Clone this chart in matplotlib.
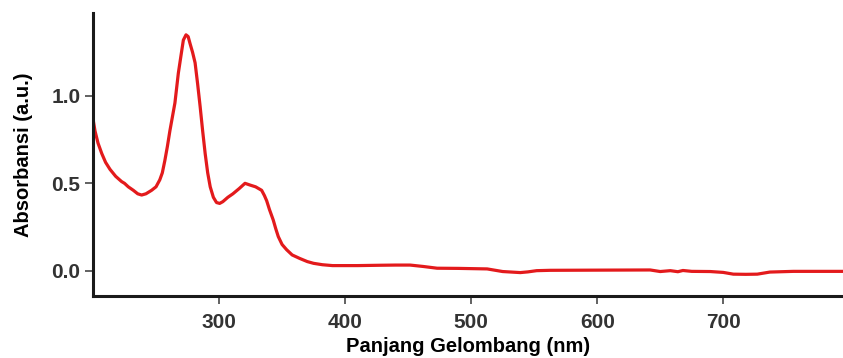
import matplotlib
matplotlib.use('Agg')
import matplotlib.pyplot as plt
import numpy as np

plt.rcParams['font.family'] = ['Liberation Sans', 'DejaVu Sans']
plt.rcParams['font.weight'] = 'bold'

# UV-Vis absorption spectrum, read point by point
wavelength = [200, 201.6, 204, 207, 210, 213.5, 218, 222.7, 225, 228, 232, 235.5, 238.6,
              242, 246.5, 250, 253, 255, 257, 259, 261, 263, 265, 267.7, 270, 271.7,
              273.8, 275.5, 277, 279, 281, 283, 285, 287, 289, 291, 293, 295.5, 298,
              300.5, 303, 307, 311, 316, 320.6, 324.6, 329, 333.8, 336, 337.8, 340,
              343, 345, 347, 350, 353.6, 358, 364, 370, 375, 382, 390, 410, 428, 440,
              451.6, 462, 473, 490, 512.7, 525, 532, 539, 545, 552, 562.7, 600, 642,
              650, 658, 664, 668, 675, 689.7, 700, 708, 718, 727, 737, 755.6, 795]
absorbance = [0.87, 0.80, 0.73, 0.67, 0.62, 0.58, 0.54, 0.51, 0.50, 0.48, 0.46, 0.44, 0.433,
              0.44, 0.46, 0.48, 0.52, 0.56, 0.63, 0.71, 0.80, 0.88, 0.96, 1.13, 1.24, 1.32,
              1.35, 1.34, 1.30, 1.25, 1.19, 1.07, 0.94, 0.80, 0.67, 0.56, 0.48, 0.42, 0.39,
              0.385, 0.395, 0.42, 0.44, 0.47, 0.50, 0.49, 0.48, 0.46, 0.43, 0.40, 0.35,
              0.29, 0.24, 0.195, 0.15, 0.12, 0.09, 0.07, 0.052, 0.042, 0.034, 0.029, 0.029, 0.031, 0.032,
              0.032, 0.024, 0.014, 0.013, 0.01, -0.005, -0.008, -0.011, -0.007, 0.0, 0.002, 0.003, 0.004,
              -0.005, 0.0, -0.006, 0.001, -0.004, -0.005, -0.01, -0.02, -0.021, -0.02, -0.008, -0.004, -0.004]

xticks = [300, 400, 500, 600, 700]
yticks = [0.0, 0.5, 1.0]

fig = plt.figure(figsize=(8.43, 3.58), dpi=100)
ax = fig.add_axes([0.1103, 0.1732, 0.8897, 0.7905])

ax.plot(wavelength, absorbance, color='#e31a1c', linewidth=2.3, solid_joinstyle='round')

ax.set_xlim(200, 795)
ax.set_ylim(-0.145, 1.475)
ax.set_xticks(xticks)
ax.set_yticks(yticks)
ax.set_yticklabels(['%.1f' % v for v in yticks])

for side in ['top', 'right']:
    ax.spines[side].set_visible(False)
for side in ['left', 'bottom']:
    ax.spines[side].set_linewidth(2.2)
    ax.spines[side].set_color('#1a1a1a')

ax.tick_params(axis='both', direction='out', length=6, width=1.3, color='#555555',
               labelsize=15, labelcolor='#333333')
ax.tick_params(axis='x', pad=6)
ax.tick_params(axis='y', pad=3)

ax.set_xlabel('Panjang Gelombang (nm)', fontsize=14.5, fontweight='bold', labelpad=4)
ax.set_ylabel('Absorbansi (a.u.)', fontsize=14.5, fontweight='bold', labelpad=13)

fig.savefig('out.png', dpi=100)
